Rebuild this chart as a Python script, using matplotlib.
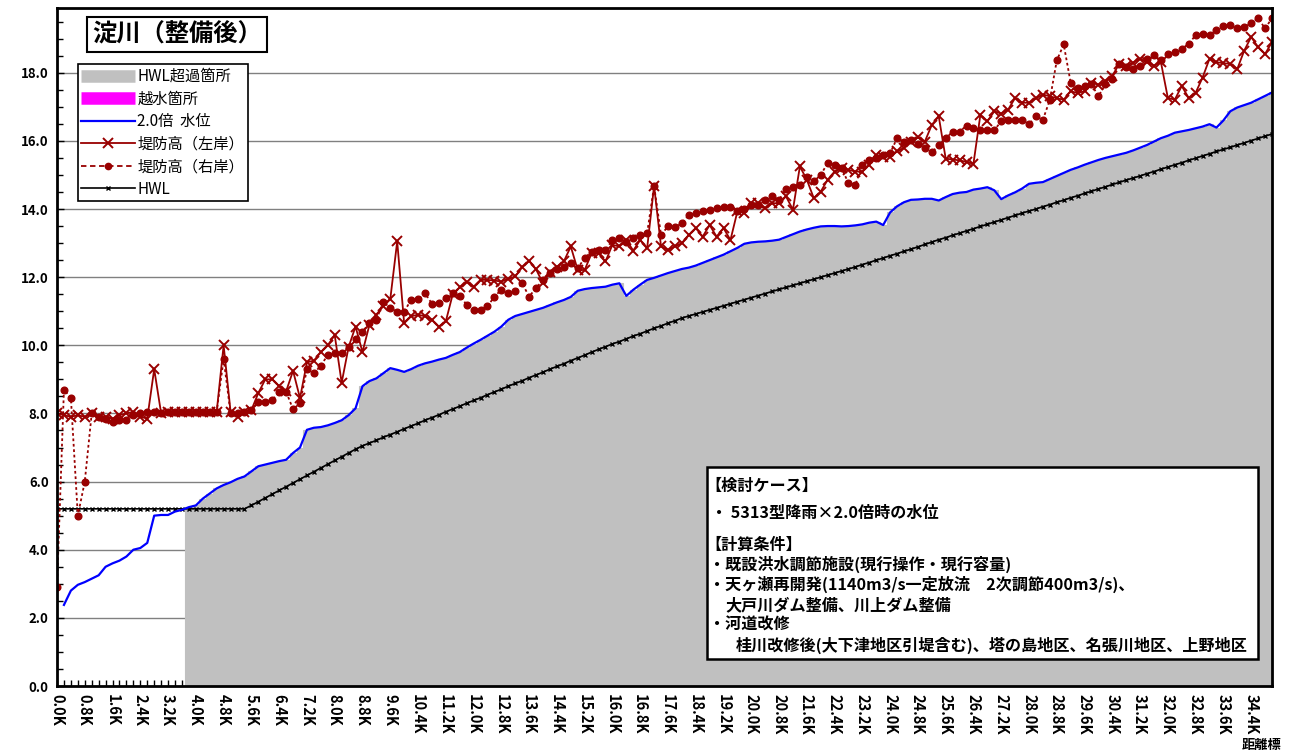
import numpy as np
import matplotlib
matplotlib.use("Agg")
import matplotlib.pyplot as plt
from matplotlib.lines import Line2D
from matplotlib.patches import Rectangle
from matplotlib.ticker import MultipleLocator

plt.rcParams['font.family'] = ['Noto Sans CJK JP', 'DejaVu Sans']

# distance marks 0.0K .. 35.0K, every 0.2K
distance = np.round(np.arange(176) * 0.2, 1)

# 堤防高（左岸）
left_bank = [
    8.0, 7.95, 7.9, 7.95, 7.9, 8.0, 7.9, 7.9, 7.85, 7.95,
    8.0, 8.05, 7.9, 7.85, 9.3, 8.0, 8.05, 8.05, 8.05, 8.05,
    8.05, 8.05, 8.05, 8.05, 10.0, 8.05, 7.9, 8.05, 8.1, 8.6,
    9.0, 9.0, 8.8, 8.65, 9.25, 8.45, 9.5, 9.55, 9.8, 10.0,
    10.3, 8.9, 9.95, 10.55, 9.8, 10.6, 10.9, 11.15, 11.35, 13.05,
    10.65, 10.85, 10.9, 10.85, 10.75, 10.55, 10.7, 11.5, 11.7, 11.87,
    11.72, 11.92, 11.92, 11.9, 11.87, 11.95, 12.02, 12.29, 12.48, 12.23,
    11.82, 12.16, 12.3, 12.46, 12.9, 12.21, 12.21, 12.7, 12.7, 12.46,
    12.95, 12.9, 13.09, 12.78, 13.09, 12.85, 14.68, 12.9, 12.8, 12.9,
    13.0, 13.24, 13.44, 13.19, 13.53, 13.19, 13.44, 13.09, 13.93, 13.88,
    14.17, 14.17, 14.02, 14.17, 14.17, 14.37, 13.98, 15.25, 14.86, 14.32,
    14.51, 14.86, 15.1, 15.2, 15.15, 15.1, 15.1, 15.3, 15.59, 15.54,
    15.54, 15.69, 15.8, 15.98, 16.1, 15.98, 16.47, 16.72, 15.48, 15.45,
    15.43, 15.38, 15.33, 16.77, 16.57, 16.87, 16.8, 16.92, 17.26, 17.12,
    17.12, 17.25, 17.36, 17.31, 17.25, 17.21, 17.46, 17.4, 17.46, 17.71,
    17.65, 17.76, 17.91, 18.26, 18.2, 18.3, 18.41, 18.31, 18.21, 18.31,
    17.26, 17.21, 17.61, 17.26, 17.41, 17.86, 18.41, 18.31, 18.28, 18.26,
    18.11, 18.65, 19.05, 18.75, 18.55, 18.9,
]

# 堤防高（右岸）
right_bank = [
    2.9, 8.7, 8.45, 5.0, 6.0, 8.0, 7.9, 7.85, 7.75, 7.8,
    7.8, 7.95, 8.0, 8.05, 8.05, 8.0, 8.05, 8.05, 8.05, 8.05,
    8.05, 8.05, 8.05, 8.05, 9.6, 8.0, 8.0, 8.05, 8.1, 8.35,
    8.35, 8.4, 8.62, 8.64, 8.12, 8.3, 9.3, 9.18, 9.4, 9.72,
    9.77, 9.77, 9.96, 10.18, 10.4, 10.65, 10.75, 11.28, 11.09, 10.99,
    10.99, 11.33, 11.35, 11.53, 11.22, 11.24, 11.38, 11.53, 11.46, 11.19,
    11.04, 11.04, 11.14, 11.43, 11.63, 11.53, 11.58, 11.82, 11.43, 11.68,
    11.92, 12.12, 12.23, 12.3, 12.41, 12.26, 12.56, 12.75, 12.8, 12.8,
    13.09, 13.14, 13.04, 13.14, 13.24, 13.29, 14.68, 13.24, 13.49, 13.47,
    13.58, 13.83, 13.88, 13.93, 13.98, 14.02, 14.07, 14.07, 13.93, 14.0,
    14.12, 14.12, 14.25, 14.37, 14.27, 14.58, 14.66, 14.71, 14.95, 14.81,
    15.0, 15.35, 15.3, 15.2, 14.76, 14.71, 15.3, 15.44, 15.49, 15.59,
    15.64, 16.08, 15.98, 16.03, 15.9, 15.79, 15.66, 15.88, 16.07, 16.27,
    16.27, 16.45, 16.37, 16.32, 16.32, 16.32, 16.57, 16.62, 16.62, 16.62,
    16.49, 16.72, 16.62, 17.2, 18.36, 18.83, 17.71, 17.54, 17.6, 17.66,
    17.31, 17.66, 17.81, 18.26, 18.16, 18.11, 18.21, 18.41, 18.51, 18.36,
    18.55, 18.6, 18.7, 18.85, 19.1, 19.15, 19.1, 19.25, 19.37, 19.4,
    19.3, 19.35, 19.45, 19.6, 19.3, 19.6,
]

# 2.0倍 水位
water_level = [
    np.nan, 2.38, 2.8, 2.97, 3.05, 3.15, 3.25, 3.5, 3.6, 3.68,
    3.8, 4.0, 4.05, 4.2, 5.0, 5.02, 5.02, 5.12, 5.17, 5.25,
    5.3, 5.5, 5.65, 5.8, 5.9, 5.98, 6.08, 6.15, 6.3, 6.45,
    6.5, 6.55, 6.6, 6.64, 6.84, 7.0, 7.52, 7.58, 7.6, 7.65,
    7.72, 7.8, 7.95, 8.15, 8.8, 8.95, 9.03, 9.18, 9.33, 9.28,
    9.22, 9.3, 9.4, 9.47, 9.52, 9.58, 9.63, 9.72, 9.8, 9.93,
    10.05, 10.16, 10.28, 10.4, 10.55, 10.75, 10.86, 10.92, 10.98, 11.04,
    11.1, 11.18, 11.26, 11.33, 11.42, 11.6, 11.65, 11.68, 11.7, 11.72,
    11.78, 11.82, 11.45, 11.63, 11.78, 11.92, 11.98, 12.05, 12.12, 12.18,
    12.24, 12.28, 12.34, 12.42, 12.5, 12.58, 12.66, 12.76, 12.86, 12.98,
    13.02, 13.04, 13.05, 13.07, 13.1, 13.18, 13.26, 13.34, 13.4, 13.45,
    13.49, 13.5, 13.5, 13.49, 13.5, 13.52, 13.55, 13.6, 13.63, 13.53,
    13.9, 14.08, 14.2, 14.27, 14.28, 14.3, 14.3, 14.25, 14.35, 14.44,
    14.48, 14.5, 14.57, 14.6, 14.64, 14.55, 14.29, 14.4, 14.49, 14.6,
    14.74, 14.77, 14.79, 14.88, 14.97, 15.06, 15.15, 15.22, 15.3, 15.37,
    15.44, 15.5, 15.55, 15.6, 15.65, 15.72, 15.8, 15.88, 15.98, 16.08,
    16.15, 16.24, 16.28, 16.32, 16.37, 16.42, 16.49, 16.39, 16.6, 16.87,
    16.98, 17.05, 17.12, 17.22, 17.32, 17.42,
]

# HWL
hwl = [
    5.2, 5.2, 5.2, 5.2, 5.2, 5.2, 5.2, 5.2, 5.2, 5.2,
    5.2, 5.2, 5.2, 5.2, 5.2, 5.2, 5.2, 5.2, 5.2, 5.2,
    5.2, 5.2, 5.2, 5.2, 5.2, 5.2, 5.2, 5.2, 5.3, 5.41,
    5.52, 5.63, 5.74, 5.85, 5.96, 6.07, 6.18, 6.29, 6.4, 6.51,
    6.62, 6.73, 6.84, 6.95, 7.05, 7.13, 7.21, 7.3, 7.38, 7.46,
    7.55, 7.63, 7.71, 7.8, 7.88, 7.96, 8.05, 8.13, 8.21, 8.3,
    8.38, 8.46, 8.55, 8.63, 8.71, 8.8, 8.88, 8.96, 9.05, 9.13,
    9.21, 9.3, 9.38, 9.46, 9.55, 9.63, 9.71, 9.8, 9.88, 9.96,
    10.04, 10.11, 10.19, 10.27, 10.34, 10.42, 10.5, 10.57, 10.65, 10.72,
    10.8, 10.86, 10.92, 10.98, 11.04, 11.1, 11.16, 11.22, 11.28, 11.34,
    11.4, 11.46, 11.52, 11.58, 11.64, 11.7, 11.76, 11.82, 11.88, 11.94,
    12.0, 12.06, 12.12, 12.18, 12.24, 12.3, 12.37, 12.43, 12.5, 12.56,
    12.63, 12.69, 12.76, 12.82, 12.89, 12.96, 13.03, 13.1, 13.16, 13.23,
    13.29, 13.36, 13.42, 13.49, 13.55, 13.62, 13.68, 13.75, 13.81, 13.88,
    13.94, 14.0, 14.07, 14.13, 14.2, 14.26, 14.33, 14.39, 14.46, 14.52,
    14.59, 14.65, 14.72, 14.78, 14.85, 14.91, 14.97, 15.04, 15.1, 15.17,
    15.23, 15.3, 15.36, 15.43, 15.49, 15.56, 15.62, 15.69, 15.75, 15.81,
    15.88, 15.94, 16.01, 16.07, 16.14, 16.2,
]

y_ticks = [0, 2, 4, 6, 8, 10, 12, 14, 16, 18]
x_label_pos = np.round(np.arange(0, 44) * 0.8, 1)

case_lines = [
    ("【検討ケース】", 705, 486),
    ("・ 5313型降雨×2.0倍時の水位", 711, 513),
    ("【計算条件】", 705, 545),
    ("・既設洪水調節施設(現行操作・現行容量)", 709, 564),
    ("・天ヶ瀬再開発(1140m3/s一定放流　2次調節400m3/s)、", 709, 584),
    ("大戸川ダム整備、川上ダム整備", 725, 605),
    ("・河道改修", 709, 625),
    ("桂川改修後(大下津地区引堤含む)、塔の島地区、名張川地区、上野地区", 736, 645),
]

dark_red = '#990000'
W, H = 1292, 756

fig = plt.figure(figsize=(W / 100, H / 100), dpi=100)
ax = fig.add_axes([57 / W, 1 - 686 / H, 1215 / W, 678 / H])

wl = np.array(water_level)
hw = np.array(hwl)
over = np.nan_to_num(wl, nan=0) > hw

# HWL超過箇所 as gap-less columns
ax.bar(distance[over], wl[over], width=0.2, color='#C0C0C0',
       edgecolor='#C0C0C0', linewidth=0.8, zorder=1)

ax.plot(distance, hw, color='black', lw=1.2, marker='x', ms=3.5, mew=1.0, zorder=3)
ax.plot(distance, wl, color='#0000FF', lw=1.6, zorder=3)
ax.plot(distance, right_bank, color=dark_red, lw=1.3, ls=(0, (1.5, 1.5)),
        marker='o', ms=4.8, zorder=4)
ax.plot(distance, left_bank, color=dark_red, lw=1.3, marker='x', ms=7, mew=1.4, zorder=5)

ax.set_xlim(0, 35.0)
ax.set_ylim(0, 19.9)
ax.set_yticks(y_ticks)
ax.set_yticklabels([f"{v:.1f}" for v in y_ticks], fontsize=9.5, fontweight='bold')
ax.yaxis.set_minor_locator(MultipleLocator(0.5))
ax.set_xticks(x_label_pos)
ax.set_xticklabels([f"{v:.1f}K" for v in x_label_pos], rotation=-90, fontsize=10.5,
                   fontweight='bold')
ax.xaxis.set_minor_locator(MultipleLocator(0.2))
ax.tick_params(axis='y', which='major', direction='in', length=5, width=1, pad=6)
ax.tick_params(axis='y', which='minor', direction='in', length=4, width=1)
ax.tick_params(axis='x', which='both', direction='in', length=4, width=1, pad=6)
ax.grid(axis='y', color='#808080', lw=1.0, zorder=0)
ax.set_axisbelow(True)
for s in ax.spines.values():
    s.set_linewidth(2.0)
    s.set_zorder(6)

# title box
ax.text(0.029, 0.979, "淀川（整備後）", transform=ax.transAxes, fontsize=17.5,
        fontweight='bold', va='top', ha='left', zorder=7,
        bbox=dict(boxstyle='square,pad=0.22', fc='white', ec='black', lw=1.5))

handles = [
    Line2D([], [], color='#C0C0C0', lw=9, solid_capstyle='butt'),
    Line2D([], [], color='#FF00FF', lw=9, solid_capstyle='butt'),
    Line2D([], [], color='#0000FF', lw=1.6),
    Line2D([], [], color=dark_red, lw=1.3, marker='x', ms=7, mew=1.4),
    Line2D([], [], color=dark_red, lw=1.3, ls=(0, (3, 2)), marker='o', ms=4.5),
    Line2D([], [], color='black', lw=1.2, marker='x', ms=3.5, mew=1.0),
]
labels = ["HWL超過箇所", "越水箇所", "2.0倍  水位", "堤防高（左岸）", "堤防高（右岸）", "HWL"]
leg = ax.legend(handles, labels, loc='upper left', bbox_to_anchor=(0.017, 0.917),
                fontsize=11, frameon=True, fancybox=False, edgecolor='black',
                framealpha=1, handlelength=3.5, handletextpad=0.15, labelspacing=0.36,
                borderpad=0.25, borderaxespad=0)
leg.get_frame().set_linewidth(1.2)
leg.set_zorder(8)

# condition box
fig.patches.append(Rectangle((707 / W, 1 - 659 / H), 551 / W, 192 / H,
                             transform=fig.transFigure, fc='white', ec='black',
                             lw=1.8, zorder=9))
for txt, px, py in case_lines:
    fig.text(px / W, 1 - py / H, txt, fontsize=11.6, fontweight='bold',
             va='center', ha='left', zorder=10)

fig.text(1262 / W, 1 - 745 / H, "距離標", fontsize=9.5, fontweight='bold',
         ha='center', va='center')

fig.savefig("out.png", dpi=100)
